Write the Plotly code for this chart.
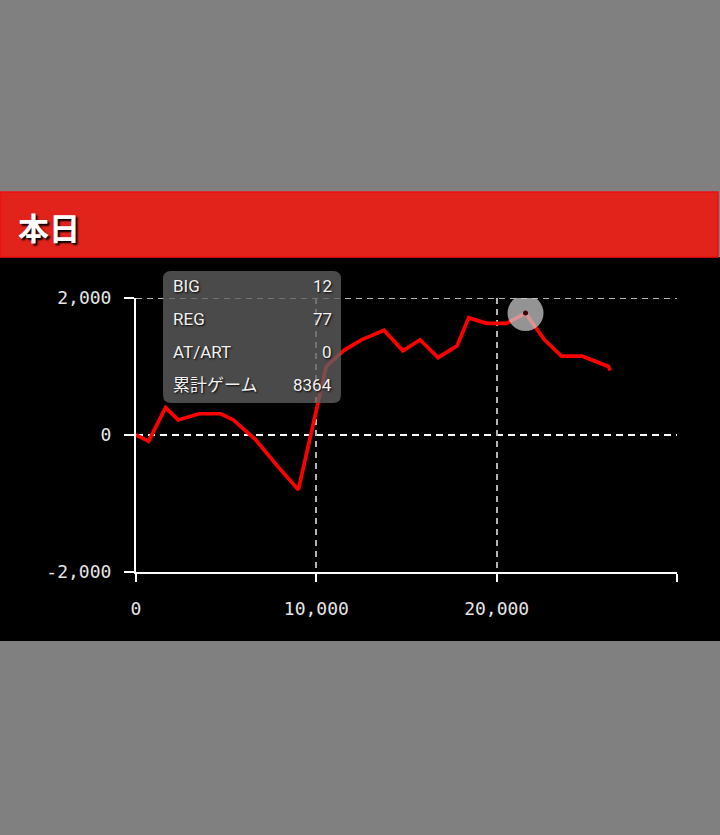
import plotly.graph_objects as go

# ---- data ----
games = [0, 700, 1640, 2340, 3500, 4700, 5400, 6600, 7800, 9000, 10550, 11550,
         12500, 13750, 14800, 15750, 16750, 17800, 18450, 19450, 20550, 21600,
         22650, 23600, 24750, 26200, 26300]
diff = [0, -90, 400, 220, 310, 310, 220, -60, -440, -800, 1000, 1240,
        1390, 1530, 1230, 1390, 1130, 1300, 1710, 1630, 1630, 1780,
        1390, 1150, 1150, 1000, 940]
highlight_index = 21

x_tickvals = [0, 10000, 20000, 30000]
x_ticktext = ["0", "10,000", "20,000", ""]
y_tickvals = [-2000, 0, 2000]
y_ticktext = ["-2,000", "0", "2,000"]

tip_labels = ["BIG", "REG", "AT/ART", "累計ゲーム"]
tip_values = ["12", "77", "0", "8364"]
title_text = "本日"

# ---- layout geometry (page pixels) ----
W, H = 720, 835
L, R, T, B = 136, 677, 298, 572
pw, ph = R - L, B - T


def px(xp):
    return (xp - L) / pw


def py(yp):
    return (B - yp) / ph


fig = go.Figure()
fig.add_trace(go.Scatter(
    x=games, y=diff, mode="lines",
    line=dict(color="#ff0000", width=3.7),
    hoverinfo="skip", showlegend=False,
))

shapes = []
# black panel
shapes.append(dict(type="rect", xref="paper", yref="paper", layer="below",
                   x0=px(0), x1=px(722), y0=py(641), y1=py(257),
                   fillcolor="#000000", line=dict(width=0)))
# red header
shapes.append(dict(type="rect", xref="paper", yref="paper", layer="below",
                   x0=px(0.5), x1=px(718), y0=py(257), y1=py(192),
                   fillcolor="#e1231b", line=dict(color="#f01010", width=1.5)))
# horizontal gridlines (top only) and dashed zero line
y_min = min(y_tickvals)
for v in y_tickvals:
    if v == y_min:
        continue
    if v == 0:
        shapes.append(dict(type="line", xref="paper", yref="y", layer="below",
                           x0=0, x1=1, y0=v, y1=v,
                           line=dict(color="#ffffff", width=2, dash="7px,5px")))
    else:
        shapes.append(dict(type="line", xref="paper", yref="y", layer="below",
                           x0=0, x1=1, y0=v, y1=v,
                           line=dict(color="#b4b4b4", width=1.8, dash="6px,5px")))
# hover circle
hx, hy = games[highlight_index], diff[highlight_index]
shapes.append(dict(type="circle", xref="x", yref="y", layer="above",
                   xsizemode="pixel", ysizemode="pixel", xanchor=hx, yanchor=hy,
                   x0=-18, x1=18, y0=-18, y1=18,
                   fillcolor="rgba(205,205,205,0.72)", line=dict(width=0)))
shapes.append(dict(type="circle", xref="x", yref="y", layer="above",
                   xsizemode="pixel", ysizemode="pixel", xanchor=hx, yanchor=hy,
                   x0=-2.5, x1=2.5, y0=-2.5, y1=2.5,
                   fillcolor="#3a0000", line=dict(width=0)))

# tooltip box (rounded)
bx0, bx1, by0, by1, r = 163, 341, 271, 403, 8
rx, ry = r / pw, r / ph
X0, X1, Y0, Y1 = px(bx0), px(bx1), py(by1), py(by0)
path = (f"M {X0+rx} {Y0} L {X1-rx} {Y0} Q {X1} {Y0} {X1} {Y0+ry} "
        f"L {X1} {Y1-ry} Q {X1} {Y1} {X1-rx} {Y1} L {X0+rx} {Y1} "
        f"Q {X0} {Y1} {X0} {Y1-ry} L {X0} {Y0+ry} Q {X0} {Y0} {X0+rx} {Y0} Z")
shapes.append(dict(type="path", xref="paper", yref="paper", layer="above",
                   path=path, fillcolor="rgba(95,95,95,0.78)", line=dict(width=0)))

annotations = []
annotations.append(dict(
    text=f"<b>{title_text}</b>", xref="paper", yref="paper",
    x=px(16), y=py(226), xanchor="left", yanchor="middle", showarrow=False,
    font=dict(family="Noto Sans CJK JP", size=31, color="#ffffff",
              shadow="2px 2px 2px #000000"),
))
row_y = [286, 319, 352, 385]
tipfont = dict(family="Roboto, Noto Sans CJK JP", size=17, color="#f2f2f2",
               shadow="1px 1px 2px #000000")
for lab, val, yy in zip(tip_labels, tip_values, row_y):
    annotations.append(dict(
        text=lab, xref="paper", yref="paper", x=px(171), y=py(yy),
        xanchor="left", yanchor="middle", showarrow=False, font=tipfont,
    ))
    annotations.append(dict(
        text=val, xref="paper", yref="paper", x=px(334), y=py(yy),
        xanchor="right", yanchor="middle", showarrow=False, font=tipfont,
    ))

tickfont = dict(family="DejaVu Sans Mono", size=18, color="#e6e6e6")

fig.update_layout(
    width=W, height=H,
    margin=dict(l=L, r=W - R, t=T, b=H - B, pad=0),
    paper_bgcolor="#808080", plot_bgcolor="#000000",
    shapes=shapes, annotations=annotations,
    xaxis=dict(range=[0, 30000], tickvals=x_tickvals, ticktext=x_ticktext,
               showline=True, linecolor="#ffffff", linewidth=2,
               ticks="outside", ticklen=8, tickwidth=2, tickcolor="#ffffff",
               showgrid=True, gridcolor="#b4b4b4", gridwidth=1.8,
               griddash="6px,5px", zeroline=False, tickfont=tickfont,
               ticklabelstandoff=11, automargin=False, fixedrange=True),
    yaxis=dict(range=[-2000, 2000], tickvals=y_tickvals, ticktext=y_ticktext,
               showline=True, linecolor="#ffffff", linewidth=2,
               ticks="outside", ticklen=10, tickwidth=2, tickcolor="#ffffff",
               showgrid=False, zeroline=False, tickfont=tickfont,
               ticklabelstandoff=9, automargin=False, fixedrange=True),
)

fig.write_html(
    "out.html",
    config={"displayModeBar": False},
    post_script="document.body.style.margin='0';document.body.style.background='#808080';",
)
